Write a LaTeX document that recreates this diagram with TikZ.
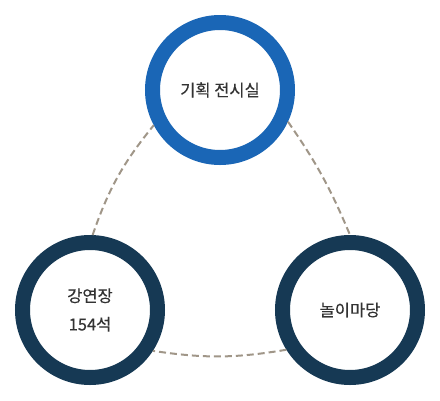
\documentclass[tikz,border=0pt]{standalone}
\definecolor{hallblue}{RGB}{26,102,182}
\definecolor{hallnavy}{RGB}{22,57,84}
\definecolor{dashtaupe}{RGB}{160,150,136}
\definecolor{labelgray}{RGB}{51,51,51}
\usepackage{fontspec}
\setmainfont{Noto Sans CJK KR}[FakeBold=0.3]
\usepackage{tikz}
\usetikzlibrary{shapes,arrows,positioning,calc}

\tikzset{
  ring/.style={circle, draw=#1, line width=15pt, fill=white, minimum size=135pt,
    inner sep=0pt, align=center, text=labelgray, font=\fontsize{16.5}{28.5}\selectfont},
  link/.style={draw=dashtaupe, line width=2pt, dash pattern=on 7pt off 4pt}
}

\begin{document}
\begin{tikzpicture}[x=1pt, y=-1pt]
            \useasboundingbox (0,0) rectangle (440,400);
            % three halls
            \node[ring=hallblue] (exhibit) at (220,90) {기획 전시실};
            \node[ring=hallnavy] (lecture) at (90,310) {강연장\\154석};
            \node[ring=hallnavy] (yard) at (350,310) {놀이마당};
            % dashed links between them
            \draw[link] (lecture.88) to[bend left=10] (exhibit.208);
            \draw[link] (exhibit.335) to[bend left=6] (yard.90);
            \draw[link] (yard.212) to[bend left=9] (lecture.327);
        \end{tikzpicture}
\end{document}
